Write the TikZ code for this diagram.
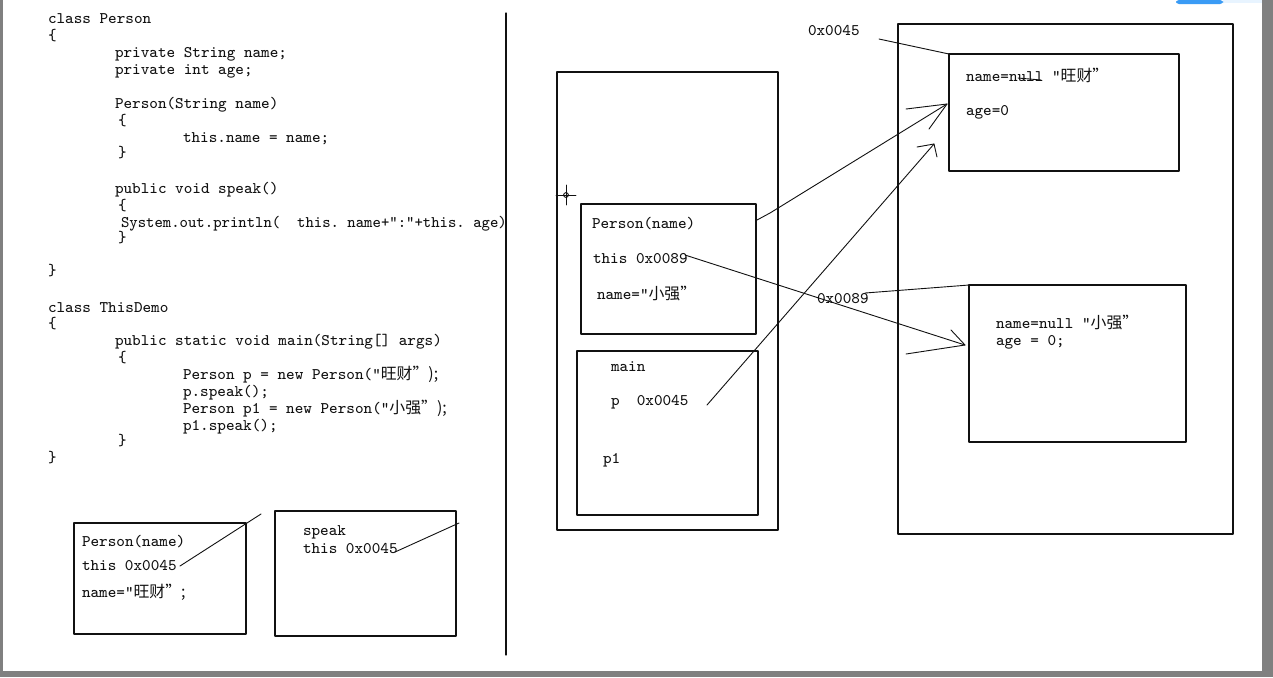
\documentclass[tikz,border=0pt]{standalone}
\usepackage{fontspec}
\newfontfamily\cjk[Scale=0.98]{Noto Sans CJK SC}
\usetikzlibrary{calc,fit}

\begin{document}
\begin{tikzpicture}[x=0.5pt,y=-0.5pt,line cap=round,line join=round,
  font=\ttfamily\fontsize{8.1}{9}\selectfont,
  txt/.style={anchor=base west,inner sep=0pt,outer sep=0pt,ink},
  box/.style={draw=ink,line width=0.6pt,inner sep=0pt,outer sep=0pt},
  wire/.style={draw=ink,line width=0.45pt}]
  \definecolor{ink}{HTML}{111111}
  \definecolor{frame}{HTML}{808080}
  \definecolor{btn}{HTML}{3A9BF5}
  \definecolor{btnbg}{HTML}{E8F4FF}

  \useasboundingbox (0,0) rectangle (1273,677);
  \fill[white] (0,0) rectangle (1273,677);

  % window edges
  \fill[frame] (0,0) rectangle (3,677);
  \fill[frame] (1262,0) rectangle (1273,677);
  \fill[frame] (0,671) rectangle (1273,677);
  \fill[btnbg] (1223,0) rectangle (1262,3);
  \fill[btn,rounded corners=1.5pt] (1176,0) -- (1176,4) -- (1223,4) -- (1223,0) -- cycle;

  % source code
  \node[txt] (c1) at (48,23) {class Person};
  \node[txt] (c2) at (48,40) {\{};
  \node[txt] (c3) at (115,57) {private String name;};
  \node[txt] (c4) at (115,74) {private int age;};
  \node[txt] (c5) at (115,108) {Person(String name)};
  \node[txt] (c6) at (118,125) {\{};
  \node[txt] (c7) at (183,142) {this.name = name;};
  \node[txt] (c8) at (118,157) {\}};
  \node[txt] (c9) at (115,193) {public void speak()};
  \node[txt] (c10) at (118,210) {\{};
  \node[txt] (c11) at (121,227) {\scalebox{0.975}[1]{System.out.println(\ \ this.\ name+":"+this.\ age)}};
  \node[txt] (c12) at (118,242) {\}};
  \node[txt] (c13) at (48,275) {\}};
  \node[txt] (c14) at (48,312) {class ThisDemo};
  \node[txt] (c15) at (48,328) {\{};
  \node[txt] (c16) at (115,345) {public static void main(String[] args)};
  \node[txt] (c17) at (118,362) {\{};
  \node[txt] (c18) at (183,379) {Person p = new Person(“\cjk{旺财}”);};
  \node[txt] (c19) at (183,396) {p.speak();};
  \node[txt] (c20) at (183,413) {Person p1 = new Person(“\cjk{小强}”);};
  \node[txt] (c21) at (183,430) {p1.speak();};
  \node[txt] (c22) at (118,445) {\}};
  \node[txt] (c23) at (48,462) {\}};

  % divider
  \coordinate (divtop) at (506,13);
  \coordinate (divbot) at (506,655);
  \draw[wire,line width=0.6pt] (divtop) -- (divbot);

  % frames drawn under the code
  \node[box,fit={(74,523) (246,634)}] (pbox) {};
  \node[txt] (pb1) at (82,546) {Person(name)};
  \node[txt] (pb2) at (82,570) {this 0x0045};
  \node[txt] (pb3) at (82,597) {name=“\cjk{旺财}”;};
  \coordinate (pbs) at (180,566);
  \coordinate (pbe) at (261,514);
  \draw[wire] (pbs) -- (pbe);

  \node[box,fit={(275,511) (456,636)}] (sbox) {};
  \node[txt] (sb1) at (303,535) {speak};
  \node[txt] (sb2) at (303,553) {this 0x0045};
  \coordinate (sbs) at (395,552);
  \coordinate (sbe) at (459,523);
  \draw[wire] (sbs) -- (sbe);

  % stack
  \node[box,fit={(557,72) (778,530)}] (stack) {};
  \node[box,fit={(581,204) (756,334)}] (frame1) {};
  \node[txt] (f1) at (592,228) {Person(name)};
  \node[txt] (f2) at (593,263) {this 0x0089};
  \node[txt] (f3) at (597,299) {name=“\cjk{小强}”};
  \node[box,fit={(577,351) (758,515)}] (mainf) {};
  \node[txt] (m1) at (611,371) {main};
  \node[txt] (m2) at (611,405) {p\ \ 0x0045};
  \node[txt] (m3) at (603,463) {p1};

  % cursor
  \coordinate (cur) at (566,195);
  \draw[wire] ($(cur)+(0,-10)$) -- ($(cur)+(0,10)$);
  \draw[wire] ($(cur)+(-10,0)$) -- ($(cur)+(10,0)$);
  \draw[wire] (cur) circle (1.2pt);

  % heap
  \node[box,fit={(898,24) (1233,534)}] (heap) {};
  \node[box,fit={(949,54) (1179,171)}] (obj1) {};
  \node[txt] (h45) at (808,35) {0x0045};
  \node[txt] (o1a) at (966,81) {name=null “\cjk{旺财}”};
  \node[txt] (o1b) at (966,115) {age=0};
  \draw[wire] (1018,78) -- (1041,80);
  \coordinate (h45s) at (879,39);
  \draw[wire] (h45s) -- (obj1.north west);

  \node[box,fit={(969,285) (1186,442)}] (obj2) {};
  \node[txt] (h89) at (817,303) {0x0089};
  \node[txt] (o2a) at (996,328) {name=null “\cjk{小强}”};
  \node[txt] (o2b) at (996,345) {age = 0;};
  \coordinate (h89s) at (865,293);
  \draw[wire] (h89s) -- (obj2.north west);

  % references
  % frame1 -> obj1
  \coordinate (a1s) at (757,220);
  \coordinate (a1k) at (770,213);
  \coordinate (t1) at (947,104);
  \draw[wire] (a1s) -- (a1k) -- (t1);
  \draw[wire] ($(t1)+(-41,5)$) -- (t1) -- ($(t1)+(-18,25)$);
  % p -> obj1
  \coordinate (a2s) at (707,405);
  \coordinate (t2) at (934,144);
  \draw[wire] (a2s) -- (t2);
  \draw[wire] ($(t2)+(-17,3)$) -- (t2) -- ($(t2)+(3,13)$);
  % this -> obj2
  \coordinate (a3s) at (685,255);
  \coordinate (t3) at (965,345);
  \draw[wire] (a3s) -- (t3);
  \draw[wire] ($(t3)+(-14,-15)$) -- (t3) -- ($(t3)+(-59,9)$);
\end{tikzpicture}
\end{document}
